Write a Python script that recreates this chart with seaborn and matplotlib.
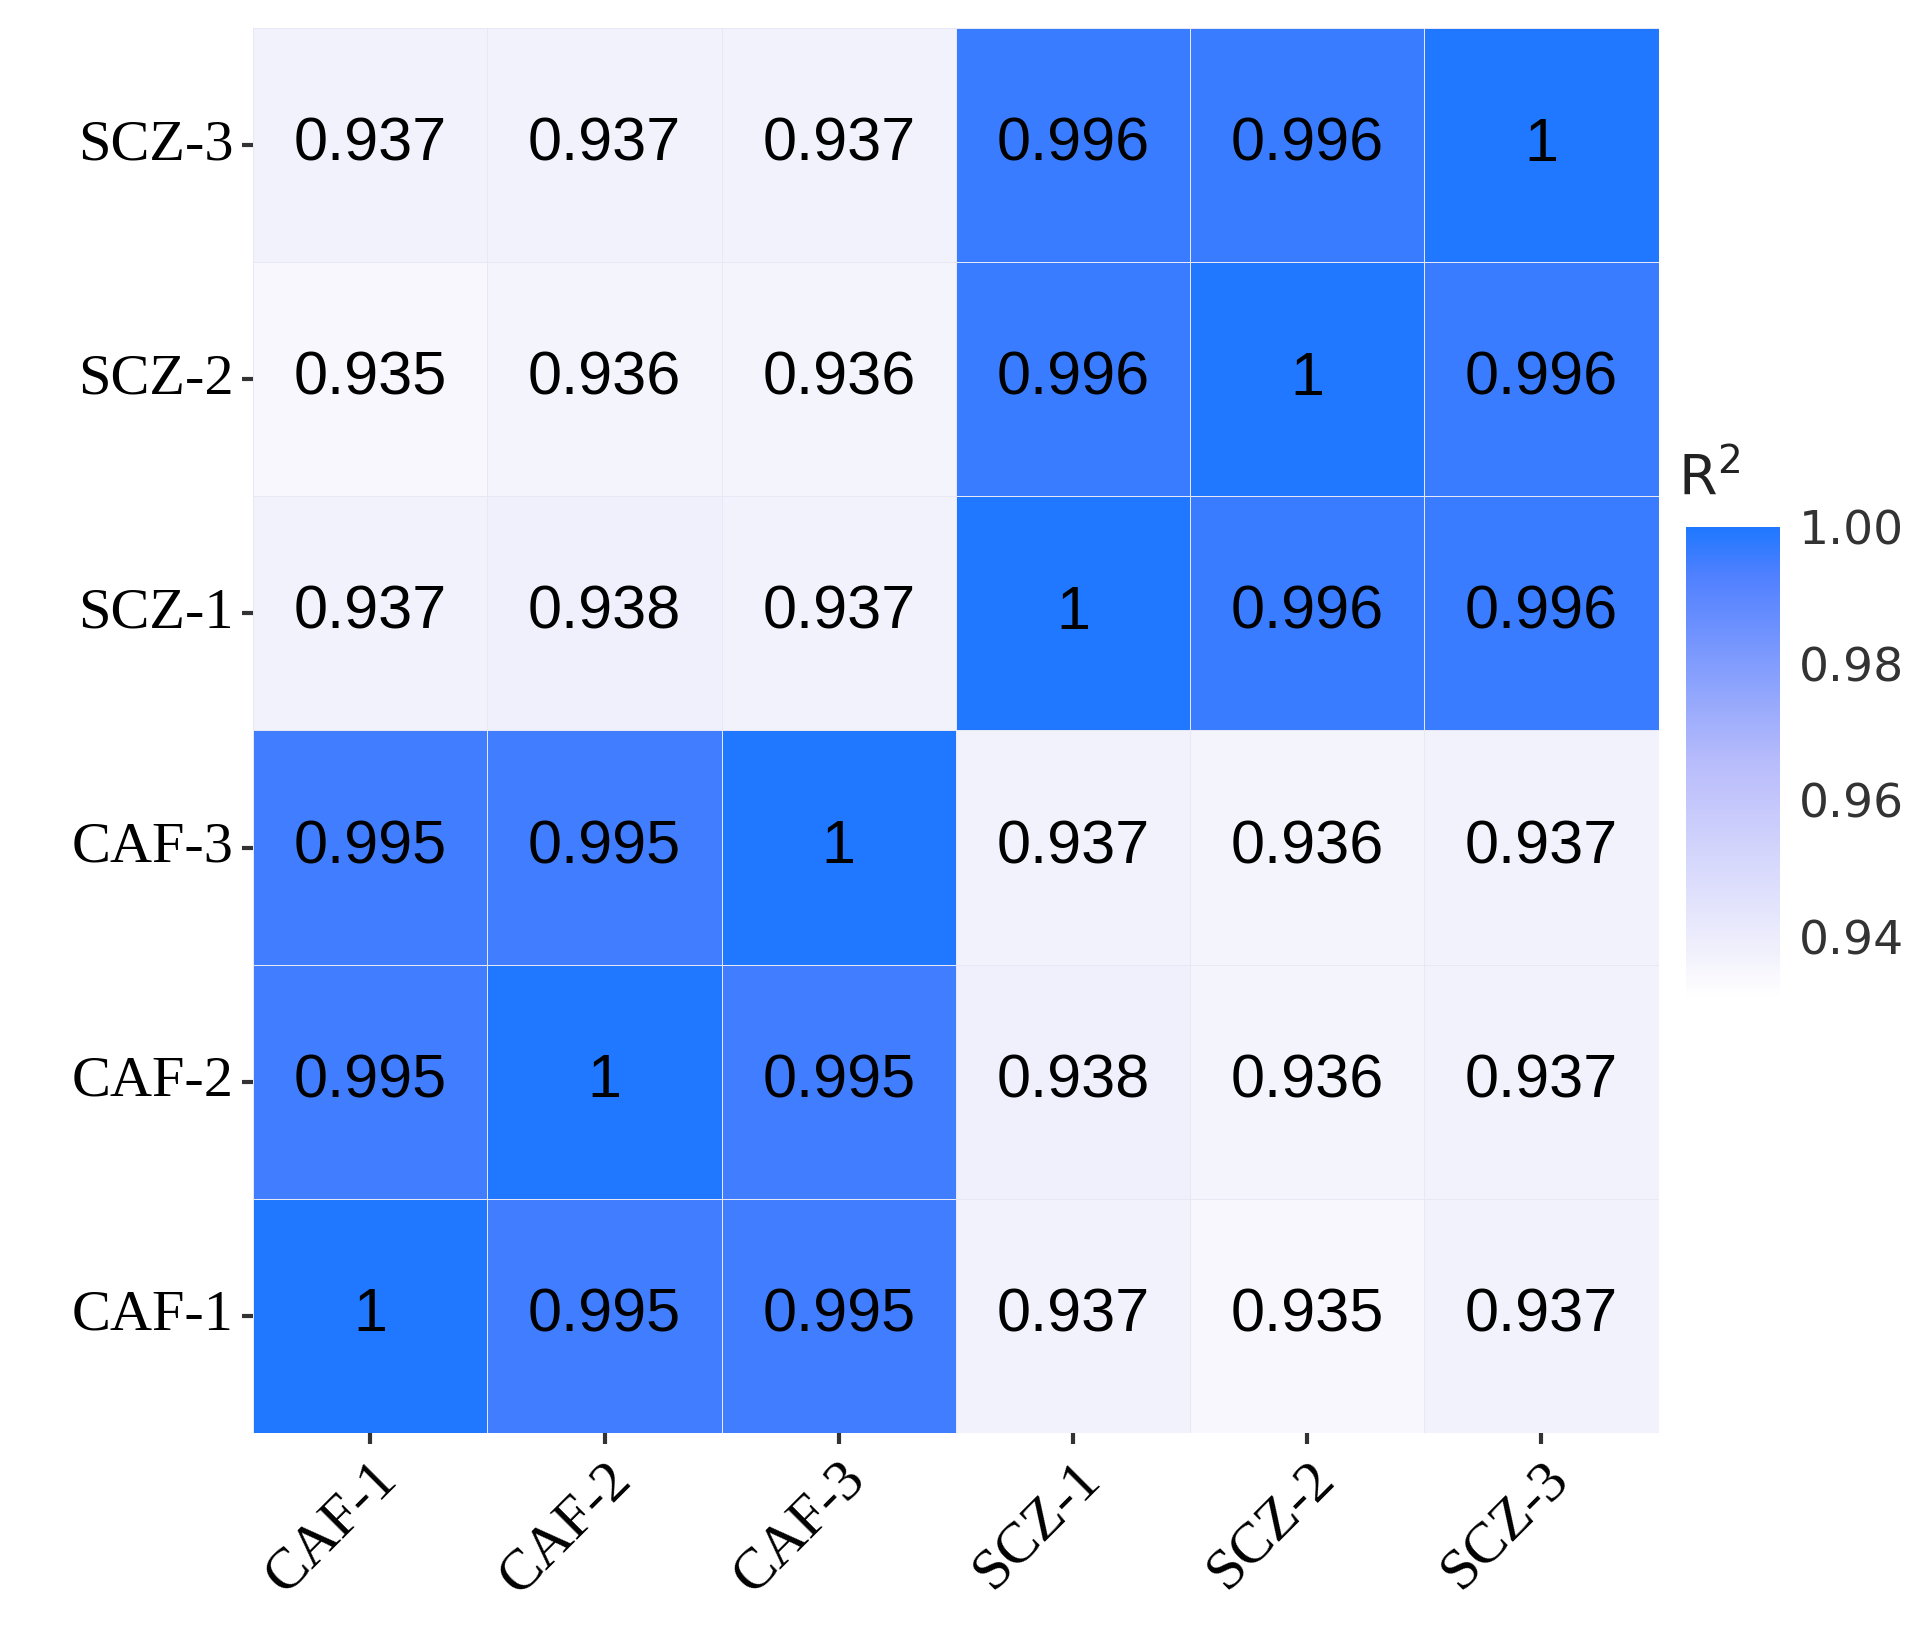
import numpy as np
import pandas as pd
import matplotlib
matplotlib.use("Agg")
import matplotlib.pyplot as plt
import seaborn as sns
from matplotlib.colors import LinearSegmentedColormap

samples = ["CAF-1", "CAF-2", "CAF-3", "SCZ-1", "SCZ-2", "SCZ-3"]
row_order = ["SCZ-3", "SCZ-2", "SCZ-1", "CAF-3", "CAF-2", "CAF-1"]
row_scz3 = [0.937, 0.937, 0.937, 0.996, 0.996, 1]
row_scz2 = [0.935, 0.936, 0.936, 0.996, 1, 0.996]
row_scz1 = [0.937, 0.938, 0.937, 1, 0.996, 0.996]
row_caf3 = [0.995, 0.995, 1, 0.937, 0.936, 0.937]
row_caf2 = [0.995, 1, 0.995, 0.938, 0.936, 0.937]
row_caf1 = [1, 0.995, 0.995, 0.937, 0.935, 0.937]
cbar_ticks = [0.94, 0.96, 0.98, 1.00]

df = pd.DataFrame([row_scz3, row_scz2, row_scz1, row_caf3, row_caf2, row_caf1],
                  index=row_order, columns=samples)
annot = df.map(lambda v: "1" if v == 1 else f"{v:.3f}")

cmap = LinearSegmentedColormap.from_list(
    "rb", [(0, "#ffffff"), (0.1, "#f0f0fc"), (0.5, "#b8bcfb"), (0.9, "#4f80ff"), (1, "#1f78ff")])

fig = plt.figure(figsize=(19.33, 16.47), dpi=100)
ax = fig.add_axes([0.131, 0.130, 0.727, 0.853])
cax = fig.add_axes([0.872, 0.394, 0.049, 0.286])
sns.heatmap(df, ax=ax, cbar_ax=cax, cmap=cmap, vmin=0.931, vmax=1.0,
            annot=annot, fmt="", linewidths=0.6, linecolor="#e8e8f4",
            annot_kws={"fontsize": 44, "color": "black", "family": "Liberation Sans"},
            cbar_kws={"ticks": cbar_ticks})
ax.tick_params(axis="both", length=8, width=3, color="#333333", pad=6)
ax.set_xticklabels(samples, rotation=45, ha="right", rotation_mode="anchor",
                   fontsize=42, family="Liberation Serif")
ax.set_yticklabels(row_order, rotation=0, fontsize=42, family="Liberation Serif")
ax.set_xlabel(""); ax.set_ylabel("")
cax.tick_params(length=10, width=1.5, color="white", labelsize=34)
cax.set_yticklabels([f"{t:.2f}" for t in cbar_ticks], color="#333333")
for s in cax.spines.values():
    s.set_visible(False)
fig.text(0.868, 0.70, "R$^2$", fontsize=40, color="#222222")
fig.savefig("out.png", dpi=100, facecolor="white")
